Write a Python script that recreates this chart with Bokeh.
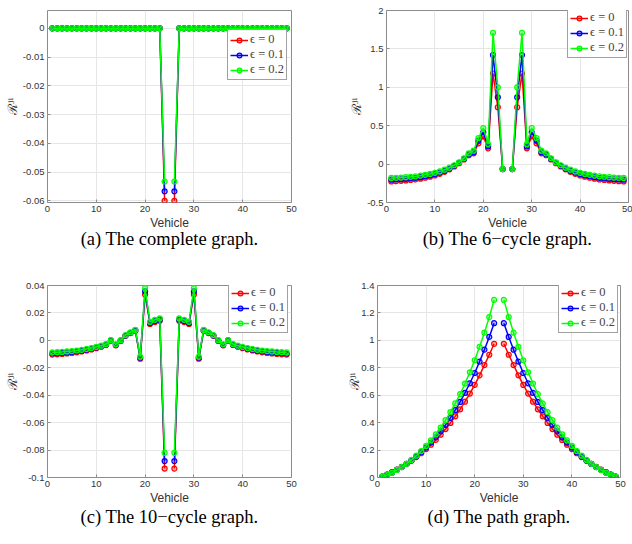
from bokeh.plotting import figure
from bokeh.models import FixedTicker, Legend, LegendItem, Range1d, ColumnDataSource, Title
from bokeh.layouts import column, row
from bokeh.embed import file_html
from bokeh.resources import INLINE

nan = float("nan")

# Vehicles 1..49 (vehicle 25 is the reference vehicle: no value)
vehicle = list(range(1, 50))
series_labels = ["ϵ = 0", "ϵ = 0.1", "ϵ = 0.2"]
series_colors = ["#ff0000", "#0000ff", "#00ff00"]
x_ticks = [0, 10, 20, 30, 40, 50]

# (a) complete graph
a_eps0 = [0.0, 0.0, 0.0, 0.0, 0.0, 0.0, 0.0, 0.0, 0.0, 0.0, 0.0, 0.0, 0.0, 0.0, 0.0, 0.0, 0.0, 0.0, 0.0, 0.0, 0.0, 0.0, 0.0,
          -0.0600, nan, -0.0600,
          0.0, 0.0, 0.0, 0.0, 0.0, 0.0, 0.0, 0.0, 0.0, 0.0, 0.0, 0.0, 0.0, 0.0, 0.0, 0.0, 0.0, 0.0, 0.0, 0.0, 0.0, 0.0, 0.0]
a_eps1 = [0.0, 0.0, 0.0, 0.0, 0.0, 0.0, 0.0, 0.0, 0.0, 0.0, 0.0, 0.0, 0.0, 0.0, 0.0, 0.0, 0.0, 0.0, 0.0, 0.0, 0.0, 0.0, 0.0,
          -0.0567, nan, -0.0567,
          0.0, 0.0, 0.0, 0.0, 0.0, 0.0, 0.0, 0.0, 0.0, 0.0, 0.0, 0.0, 0.0, 0.0, 0.0, 0.0, 0.0, 0.0, 0.0, 0.0, 0.0, 0.0, 0.0]
a_eps2 = [0.0, 0.0, 0.0, 0.0, 0.0, 0.0, 0.0, 0.0, 0.0, 0.0, 0.0, 0.0, 0.0, 0.0, 0.0, 0.0, 0.0, 0.0, 0.0, 0.0, 0.0, 0.0, 0.0,
          -0.0533, nan, -0.0533,
          0.0, 0.0, 0.0, 0.0, 0.0, 0.0, 0.0, 0.0, 0.0, 0.0, 0.0, 0.0, 0.0, 0.0, 0.0, 0.0, 0.0, 0.0, 0.0, 0.0, 0.0, 0.0, 0.0]
a_yticks = [-0.06, -0.05, -0.04, -0.03, -0.02, -0.01, 0.0]
a_ylabels = ["-0.06", "-0.05", "-0.04", "-0.03", "-0.02", "-0.01", "0"]

# (b) 6-cycle graph
b_eps0 = [-0.225, -0.222, -0.218, -0.213, -0.207, -0.199, -0.190, -0.178, -0.164, -0.147, -0.126, -0.100,
          -0.068, -0.030, 0.012, 0.060, 0.115, 0.140, 0.270, 0.360, 0.205, 1.180, 0.740, -0.065,
          nan,
          -0.065, 0.740, 1.180, 0.205, 0.360, 0.270, 0.140, 0.115, 0.060, 0.012, -0.030, -0.068,
          -0.100, -0.126, -0.147, -0.164, -0.178, -0.190, -0.199, -0.207, -0.213, -0.218, -0.222, -0.225]
b_eps1 = [-0.203, -0.200, -0.197, -0.192, -0.186, -0.179, -0.170, -0.159, -0.146, -0.130, -0.110, -0.086,
          -0.057, -0.022, 0.017, 0.068, 0.128, 0.155, 0.305, 0.415, 0.230, 1.420, 0.870, -0.065,
          nan,
          -0.065, 0.870, 1.420, 0.230, 0.415, 0.305, 0.155, 0.128, 0.068, 0.017, -0.022, -0.057,
          -0.086, -0.110, -0.130, -0.146, -0.159, -0.170, -0.179, -0.186, -0.192, -0.197, -0.200, -0.203]
b_eps2 = [-0.180, -0.178, -0.175, -0.170, -0.165, -0.158, -0.150, -0.140, -0.128, -0.113, -0.095, -0.073,
          -0.047, -0.015, 0.022, 0.075, 0.140, 0.175, 0.340, 0.470, 0.260, 1.710, 1.000, -0.065,
          nan,
          -0.065, 1.000, 1.710, 0.260, 0.470, 0.340, 0.175, 0.140, 0.075, 0.022, -0.015, -0.047,
          -0.073, -0.095, -0.113, -0.128, -0.140, -0.150, -0.158, -0.165, -0.170, -0.175, -0.178, -0.180]
b_yticks = [-0.5, 0.0, 0.5, 1.0, 1.5, 2.0]
b_ylabels = ["-0.5", "0", "0.5", "1", "1.5", "2"]

# (c) 10-cycle graph
c_eps0 = [-0.0104, -0.0102, -0.0099, -0.0096, -0.0092, -0.0087, -0.0081, -0.0074, -0.0066, -0.0057, -0.0046, -0.0034,
          -0.0002, -0.0036, -0.0004, 0.0033, 0.0053, 0.0070, -0.0134, 0.0335, 0.0120, 0.0133, 0.0143, -0.0935,
          nan,
          -0.0935, 0.0143, 0.0133, 0.0120, 0.0335, -0.0134, 0.0070, 0.0053, 0.0033, -0.0004, -0.0036, -0.0002,
          -0.0034, -0.0046, -0.0057, -0.0066, -0.0074, -0.0081, -0.0087, -0.0092, -0.0096, -0.0099, -0.0102, -0.0104]
c_eps1 = [-0.0096, -0.0094, -0.0091, -0.0088, -0.0085, -0.0080, -0.0075, -0.0068, -0.0061, -0.0052, -0.0042, -0.0031,
          0.0000, -0.0033, -0.0001, 0.0035, 0.0055, 0.0073, -0.0127, 0.0357, 0.0127, 0.0141, 0.0151, -0.0880,
          nan,
          -0.0880, 0.0151, 0.0141, 0.0127, 0.0357, -0.0127, 0.0073, 0.0055, 0.0035, -0.0001, -0.0033, 0.0000,
          -0.0031, -0.0042, -0.0052, -0.0061, -0.0068, -0.0075, -0.0080, -0.0085, -0.0088, -0.0091, -0.0094, -0.0096]
c_eps2 = [-0.0088, -0.0086, -0.0084, -0.0081, -0.0078, -0.0074, -0.0069, -0.0063, -0.0056, -0.0048, -0.0039, -0.0028,
          0.0002, -0.0030, 0.0001, 0.0038, 0.0058, 0.0076, -0.0120, 0.0380, 0.0135, 0.0150, 0.0160, -0.0820,
          nan,
          -0.0820, 0.0160, 0.0150, 0.0135, 0.0380, -0.0120, 0.0076, 0.0058, 0.0038, 0.0001, -0.0030, 0.0002,
          -0.0028, -0.0039, -0.0048, -0.0056, -0.0063, -0.0069, -0.0074, -0.0078, -0.0081, -0.0084, -0.0086, -0.0088]
c_yticks = [-0.1, -0.08, -0.06, -0.04, -0.02, 0.0, 0.02, 0.04]
c_ylabels = ["-0.1", "-0.08", "-0.06", "-0.04", "-0.02", "0", "0.02", "0.04"]

# (d) path graph
d_eps0 = [0.006, 0.022, 0.039, 0.057, 0.077, 0.099, 0.123, 0.149, 0.177, 0.207, 0.239, 0.274,
          0.312, 0.353, 0.398, 0.446, 0.497, 0.553, 0.612, 0.675, 0.745, 0.820, 0.895, 0.975,
          nan,
          0.975, 0.895, 0.820, 0.745, 0.675, 0.612, 0.553, 0.497, 0.446, 0.398, 0.353, 0.312,
          0.274, 0.239, 0.207, 0.177, 0.149, 0.123, 0.099, 0.077, 0.057, 0.039, 0.022, 0.006]
d_eps1 = [0.006, 0.021, 0.037, 0.056, 0.076, 0.099, 0.125, 0.154, 0.185, 0.218, 0.254, 0.293,
          0.337, 0.384, 0.435, 0.491, 0.551, 0.617, 0.687, 0.762, 0.845, 0.932, 1.025, 1.125,
          nan,
          1.125, 1.025, 0.932, 0.845, 0.762, 0.687, 0.617, 0.551, 0.491, 0.435, 0.384, 0.337,
          0.293, 0.254, 0.218, 0.185, 0.154, 0.125, 0.099, 0.076, 0.056, 0.037, 0.021, 0.006]
d_eps2 = [0.006, 0.020, 0.036, 0.055, 0.076, 0.100, 0.128, 0.159, 0.193, 0.230, 0.270, 0.314,
          0.364, 0.418, 0.476, 0.540, 0.608, 0.685, 0.767, 0.855, 0.953, 1.056, 1.170, 1.295,
          nan,
          1.295, 1.170, 1.056, 0.953, 0.855, 0.767, 0.685, 0.608, 0.540, 0.476, 0.418, 0.364,
          0.314, 0.270, 0.230, 0.193, 0.159, 0.128, 0.100, 0.076, 0.055, 0.036, 0.020, 0.006]
d_yticks = [0.0, 0.2, 0.4, 0.6, 0.8, 1.0, 1.2, 1.4]
d_ylabels = ["0", "0.2", "0.4", "0.6", "0.8", "1", "1.2", "1.4"]

captions = ["(a) The complete graph.", "(b) The 6−cycle graph.",
            "(c) The 10−cycle graph.", "(d) The path graph."]
y_title = "ℛʲⁱ"
x_title = "Vehicle"

FRAME = "#8c8c8c"
TICKTXT = "#333333"


def panel(series, yticks, ylabels, yrange, caption, width, height,
          mbl, mbr, mbt, mbb, legend_xy, ylab_standoff, cap_offset, cap_standoff):
    p = figure(width=width, height=height, x_range=Range1d(0, 50),
               y_range=Range1d(*yrange), output_backend="svg",
               toolbar_location=None, min_border_left=mbl,
               min_border_right=mbr, min_border_top=mbt,
               min_border_bottom=mbb, background_fill_color="white",
               border_fill_color="white")
    p.outline_line_color = FRAME
    p.outline_line_width = 1
    p.xaxis.ticker = FixedTicker(ticks=x_ticks)
    p.yaxis.ticker = FixedTicker(ticks=yticks)
    p.yaxis.major_label_overrides = {t: l for t, l in zip(yticks, ylabels)}
    for ax in (p.xaxis, p.yaxis):
        ax.axis_line_color = None
        ax.major_tick_in = 3
        ax.major_tick_out = 0
        ax.major_tick_line_color = FRAME
        ax.minor_tick_line_color = None
        ax.major_label_text_font = "Liberation Sans"
        ax.major_label_text_font_size = "9.5px"
        ax.major_label_text_color = TICKTXT
        ax.major_label_standoff = 3
    p.xaxis.axis_label = x_title
    p.xaxis.axis_label_text_font = "Liberation Sans"
    p.xaxis.axis_label_text_font_size = "12px"
    p.xaxis.axis_label_text_font_style = "normal"
    p.xaxis.axis_label_text_color = TICKTXT
    p.xaxis.axis_label_standoff = 1
    p.yaxis.axis_label = y_title
    p.yaxis.axis_label_text_font = "DejaVu Serif"
    p.yaxis.axis_label_text_font_size = "13px"
    p.yaxis.axis_label_text_font_style = "normal"
    p.yaxis.axis_label_text_color = TICKTXT
    p.yaxis.axis_label_standoff = ylab_standoff
    p.grid.grid_line_color = "#e6e6e6"
    p.grid.grid_line_width = 1

    items = []
    for ys, col, lab in zip(series, series_colors, series_labels):
        src = ColumnDataSource(dict(x=vehicle, y=ys))
        lr = p.line("x", "y", source=src, line_color=col, line_width=1.5)
        sr = p.scatter("x", "y", source=src, marker="circle", size=5,
                       line_color=col, line_width=1.2, fill_color=col,
                       fill_alpha=0.3)
        items.append(LegendItem(label=lab, renderers=[lr, sr]))
    leg = Legend(items=items, location=legend_xy, padding=2, spacing=0,
                 margin=0, glyph_width=18, glyph_height=12, label_height=12,
                 label_width=20, label_standoff=2,
                 label_text_font="Liberation Serif",
                 label_text_font_size="12.5px", border_line_color="#444444",
                 border_line_width=1, background_fill_color="white",
                 background_fill_alpha=1.0)
    p.add_layout(leg)

    p.add_layout(Title(text=caption, align="center", offset=cap_offset,
                       standoff=cap_standoff, text_font="Liberation Serif",
                       text_font_size="18.5px", text_font_style="normal",
                       text_color="black"), "below")
    return p


pa = panel([a_eps0, a_eps1, a_eps2], a_yticks, a_ylabels, (-0.0606, 0.0062),
           captions[0], 316, 262, 47, 25, 10, 60, (180, 122), 0, -11, -12)
pb = panel([b_eps0, b_eps1, b_eps2], b_yticks, b_ylabels, (-0.5, 2.0),
           captions[1], 316, 262, 70, 4, 10, 60, (181, 144), 0, -19, -12)
pc = panel([c_eps0, c_eps1, c_eps2], c_yticks, c_ylabels, (-0.1, 0.04),
           captions[2], 316, 282, 47, 25, 23, 67, (181, 144), 0, -11, -5)
pd = panel([d_eps0, d_eps1, d_eps2], d_yticks, d_ylabels, (0.0, 1.4),
           captions[3], 316, 282, 61, 12, 23, 67, (181, 144), -4, 14, -5)

layout = column(row(pa, pb), row(pc, pd))

open("out.html", "w").write(file_html(layout, INLINE))
